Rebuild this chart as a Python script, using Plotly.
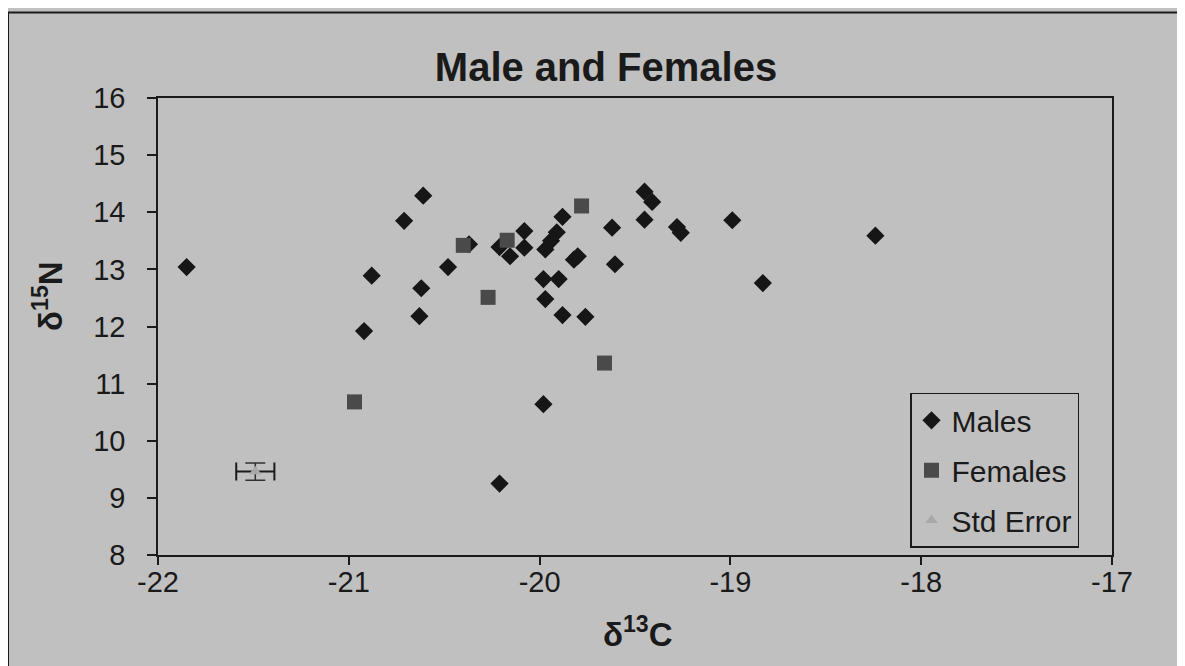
import plotly.graph_objects as go

# ---- data ----
males_x = [-21.85, -20.61, -20.71, -20.37, -20.48, -20.88, -20.62, -20.63, -20.92,
           -20.21, -20.155, -20.08, -20.08, -19.88, -19.97, -19.94, -19.91,
           -19.82, -19.80, -19.62, -19.605, -19.98, -19.90, -19.97, -19.88, -19.76,
           -19.98, -20.21, -19.45, -19.41, -19.45, -19.28, -19.26, -18.99, -18.24, -18.83]
males_y = [13.04, 14.29, 13.85, 13.44, 13.04, 12.89, 12.67, 12.18, 11.92,
           13.39, 13.23, 13.67, 13.38, 13.92, 13.35, 13.50, 13.65,
           13.17, 13.23, 13.73, 13.09, 12.83, 12.83, 12.48, 12.20, 12.17,
           10.64, 9.25, 14.36, 14.18, 13.87, 13.74, 13.64, 13.86, 13.59, 12.76]

females_x = [-20.40, -20.17, -19.78, -20.27, -19.66, -20.97]
females_y = [13.42, 13.51, 14.11, 12.51, 11.36, 10.68]

stderr_x = [-21.49]
stderr_y = [9.46]
stderr_ex = [0.10]
stderr_ey = [0.15]

x_ticks = [-22, -21, -20, -19, -18, -17]
y_ticks = [8, 9, 10, 11, 12, 13, 14, 15, 16]

BG = "#c0c0c0"
INK = "#1a1a1a"
FONT = "Liberation Sans, Arial, sans-serif"

W, H = 1185, 666
OFF = 8  # page body margin
# reference pixel geometry of the plot area
REF_L, REF_R, REF_T, REF_B = 158, 1112, 97.7, 555.5
L = REF_L - OFF
T = REF_T - OFF
R = W - (REF_R - OFF)
B = H - (REF_B - OFF)
pw = REF_R - REF_L
ph = REF_B - REF_T


def px2paper_x(px):
    return (px - REF_L) / pw


def py2paper_y(py):
    return (REF_B - py) / ph


fig = go.Figure()
fig.add_trace(go.Scatter(
    x=males_x, y=males_y, mode="markers", name="Males", legendgroup="m",
    marker=dict(symbol="diamond", size=14, color="#161616", line=dict(width=0)),
))
fig.add_trace(go.Scatter(
    x=females_x, y=females_y, mode="markers", name="Females", legendgroup="f",
    marker=dict(symbol="square", size=15, color="#4a4a4a", line=dict(width=0)),
))
fig.add_trace(go.Scatter(
    x=stderr_x, y=stderr_y, mode="markers", name="Std Error", legendgroup="s",
    marker=dict(symbol="triangle-up", size=11, color="#a8a8a8", line=dict(width=0)),
    error_x=dict(type="data", array=stderr_ex, color=INK, thickness=2, width=9),
    error_y=dict(type="data", array=stderr_ey, color="#303030", thickness=1.5, width=10),
))
# empty trace so the tick-only overlay axis is drawn
fig.add_trace(go.Scatter(x=[], y=[], xaxis="x2", showlegend=False, hoverinfo="skip"))

fig.update_layout(
    width=W, height=H,
    margin=dict(l=L, r=R, t=T, b=B, pad=0),
    paper_bgcolor=BG, plot_bgcolor=BG,
    font=dict(family=FONT, size=29, color=INK),
    title=dict(text="<b>Male and Females</b>", x=px2paper_x(606), xref="paper",
               xanchor="center", y=1 - (67 - OFF) / H, yanchor="middle",
               font=dict(family=FONT, size=40, color=INK)),
    showlegend=True,
    legend=dict(x=px2paper_x(910), y=py2paper_y(393), xanchor="left", yanchor="top",
                bgcolor=BG, bordercolor=INK, borderwidth=1.5,
                font=dict(family=FONT, size=30, color=INK),
                tracegroupgap=8, entrywidth=143),
    xaxis=dict(range=[-22, -17], tickvals=x_ticks, ticktext=[str(v) for v in x_ticks],
               showgrid=False, zeroline=False, showline=True, linecolor=INK,
               linewidth=1.5, mirror=True, ticks="", ticklabelstandoff=0),
    xaxis2=dict(range=[-22, -17], tickvals=x_ticks, overlaying="x", anchor="y", side="bottom",
                showgrid=False, zeroline=False, showline=False, showticklabels=False,
                ticks="outside", ticklen=9, tickwidth=1.5, tickcolor=INK),
    yaxis=dict(range=[8, 16], tickvals=y_ticks, ticktext=[str(v) for v in y_ticks],
               showgrid=False, zeroline=False, showline=True, linecolor=INK,
               linewidth=1.5, mirror=True, ticks="outside", ticklen=9, tickwidth=1.5,
               tickcolor=INK, ticklabelstandoff=16),
    annotations=[
        dict(text="<b>δ<sup>15</sup>N</b>", xref="paper", yref="paper",
             x=px2paper_x(48), y=py2paper_y(296), textangle=-90, showarrow=False,
             xanchor="center", yanchor="middle",
             font=dict(family=FONT, size=33, color=INK)),
        dict(text="<b>δ<sup>13</sup>C</b>", xref="paper", yref="paper",
             x=px2paper_x(638), y=py2paper_y(633), showarrow=False,
             xanchor="center", yanchor="middle",
             font=dict(family=FONT, size=33, color=INK)),
    ],
    shapes=[
        dict(type="rect", xref="paper", yref="paper",
             x0=px2paper_x(8), y0=py2paper_y(720), x1=px2paper_x(1240), y1=py2paper_y(12),
             line=dict(color=INK, width=2), fillcolor="rgba(0,0,0,0)", layer="below"),
    ],
)

fig.write_html("out.html")
